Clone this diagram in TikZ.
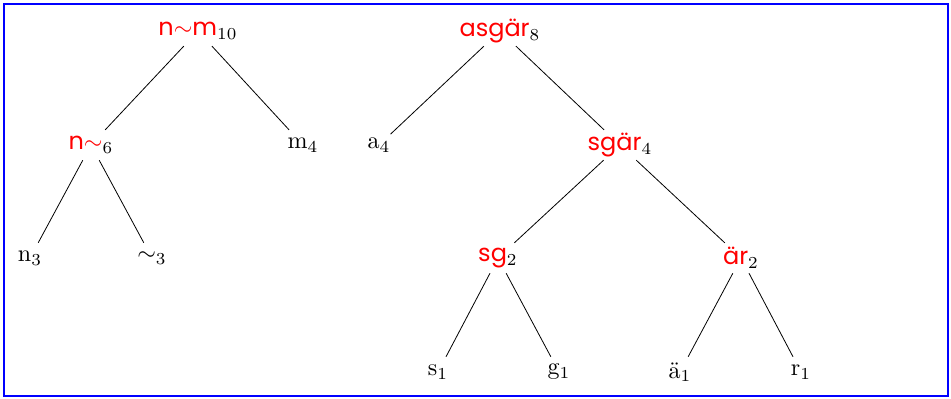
\documentclass[tikz,border=0pt]{standalone}
\usepackage{fontspec}
\newfontfamily\redsans{Poppins}
\definecolor{framebl}{RGB}{0,0,255}
\definecolor{redtx}{RGB}{255,0,0}
\begin{document}
\begin{tikzpicture}[x=1pt,y=-1pt,
  tn/.style={inner sep=0pt, minimum height=30pt, anchor=center},
  edge/.style={draw=black, line width=0.8pt}]
\useasboundingbox (0,0) rectangle (951,399);
\node[draw=framebl, line width=2pt, minimum width=944pt, minimum height=392pt, inner sep=0pt] (frame) at (475.5,199.5) {};
\newcommand{\rt}[1]{\textcolor{redtx}{\redsans #1}}
\newcommand{\bx}[1]{\scalebox{2.4}{#1}}
% left tree
\node[tn] (nm) at (198,31) {\bx{\rt{n}{\color{redtx}$\sim$}\rt{m}$_{10}$}};
\node[tn] (nt) at (91,145) {\bx{\rt{n}{\color{redtx}$\sim$}$_{6}$}};
\node[tn] (m4) at (303,145) {\bx{m$_{4}$}};
\node[tn] (n3) at (30,258) {\bx{n$_{3}$}};
\node[tn] (t3) at (152,258) {\bx{$\sim_{3}$}};
% right tree
\node[tn] (as) at (500,31) {\bx{\rt{asgär}$_{8}$}};
\node[tn] (a4) at (379,145) {\bx{a$_{4}$}};
\node[tn] (sga) at (620,145) {\bx{\rt{sgär}$_{4}$}};
\node[tn] (sg) at (498,258) {\bx{\rt{sg}$_{2}$}};
\node[tn] (ar) at (741,258) {\bx{\rt{är}$_{2}$}};
\node[tn] (s1) at (438,372) {\bx{s$_{1}$}};
\node[tn] (g1) at (559,372) {\bx{g$_{1}$}};
\node[tn] (a1) at (680,372) {\bx{ä$_{1}$}};
\node[tn] (r1) at (801,372) {\bx{r$_{1}$}};
\draw[edge] (nm) -- (nt);
\draw[edge] (nm) -- (m4);
\draw[edge] (nt) -- (n3);
\draw[edge] (nt) -- (t3);
\draw[edge] (as) -- (a4);
\draw[edge] (as) -- (sga);
\draw[edge] (sga) -- (sg);
\draw[edge] (sga) -- (ar);
\draw[edge] (sg) -- (s1);
\draw[edge] (sg) -- (g1);
\draw[edge] (ar) -- (a1);
\draw[edge] (ar) -- (r1);
\end{tikzpicture}
\end{document}
